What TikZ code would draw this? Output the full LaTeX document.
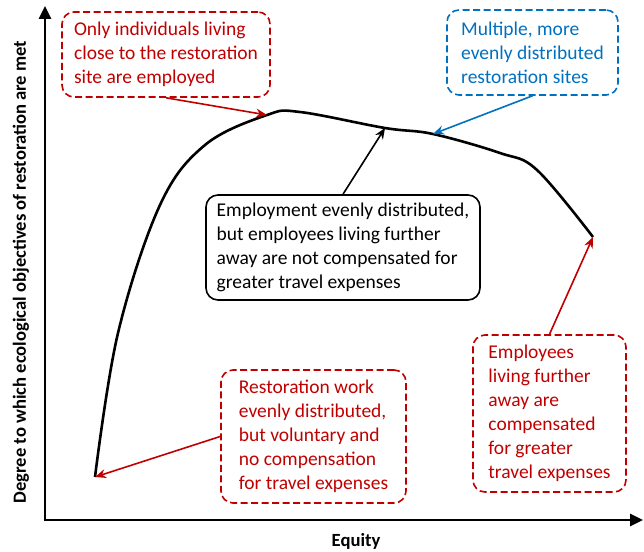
\documentclass[tikz,border=0pt]{standalone}
\usepackage{fontspec}
\setmainfont{Carlito}
\usetikzlibrary{arrows.meta}
\definecolor{darkred}{RGB}{192,0,0}
\definecolor{midblue}{RGB}{0,112,192}
\tikzstyle{redbox} = [rectangle, rounded corners=12pt, minimum height=85pt, draw=darkred, text=darkred, dash pattern=on 7pt off 3.5pt, line width=1.6pt, align=left]
\tikzstyle{bluebox} = [redbox, draw=midblue, text=midblue]
\tikzstyle{blackbox} = [rectangle, rounded corners=12pt, draw=black, line width=1.6pt, align=left]
\tikzstyle{arrow} = [line width=1.6pt,-{Stealth[length=11pt,width=9pt]}]
\tikzstyle{axis} = [line width=2.8pt,-{Triangle[length=13pt,width=12pt]}]

\begin{document}
\begin{tikzpicture}[x=1pt, y=-1pt, font=\fontsize{19.5}{24}\selectfont]
\useasboundingbox (0,0) rectangle (644,551);

      % axes
      \coordinate (origin) at (45,520);
      \coordinate (ytip) at (45,6);
      \coordinate (xtip) at (643,520);
      \draw [axis] ([yshift=-1.4pt]origin) -- (ytip);
      \draw [axis] ([xshift=-1.4pt]origin) -- (xtip);
      \node (ylabel) [rotate=90, font=\fontsize{18.6}{20}\bfseries] at (21,272) {Degree to which ecological objectives of restoration are met};
      \node (xlabel) [font=\fontsize{18.6}{20}\bfseries] at (356,541) {Equity};

      % curve
      \coordinate (start) at (95,477);
      \coordinate (peak) at (267,115);
      \coordinate (mid) at (385,128);
      \coordinate (multi) at (433,134);
      \coordinate (last) at (593,237);
      \draw [line width=2.6pt] plot [smooth, tension=0.6] coordinates {(start) (118,333) (160,205) (205,145) (peak) (300,112) (mid) (multi) (500,153) (537,170) (last)};

      % boxes
      \node (local) [redbox, minimum width=208pt] at (166,54.5) {Only individuals living\\close to the restoration\\site are employed};
      \node (sites) [bluebox, minimum width=171pt] at (532.5,52.5) {Multiple, more\\evenly distributed\\restoration sites};
      \node (even) [blackbox, minimum width=274pt, minimum height=105pt] at (343,247.5) {Employment evenly distributed,\\but employees living further\\away are not compensated for\\greater travel expenses};
      \node (voluntary) [redbox, minimum width=185pt, minimum height=133pt] at (313.5,436.5) {Restoration work\\evenly distributed,\\but voluntary and\\no compensation\\for travel expenses};
      \node (paid) [redbox, minimum width=153pt, minimum height=157pt] at (549.5,413.5) {Employees\\living further\\away are\\compensated\\for greater\\travel expenses};

      \draw [arrow, darkred] (local.south) -- (peak);
      \draw [arrow, midblue] (sites.south) -- (multi);
      \draw [arrow] (even.north) -- (mid);
      \draw [arrow, darkred] (voluntary.west) -- (start);
      \draw [arrow, darkred] (paid.north) -- (last);
\end{tikzpicture}
\end{document}
